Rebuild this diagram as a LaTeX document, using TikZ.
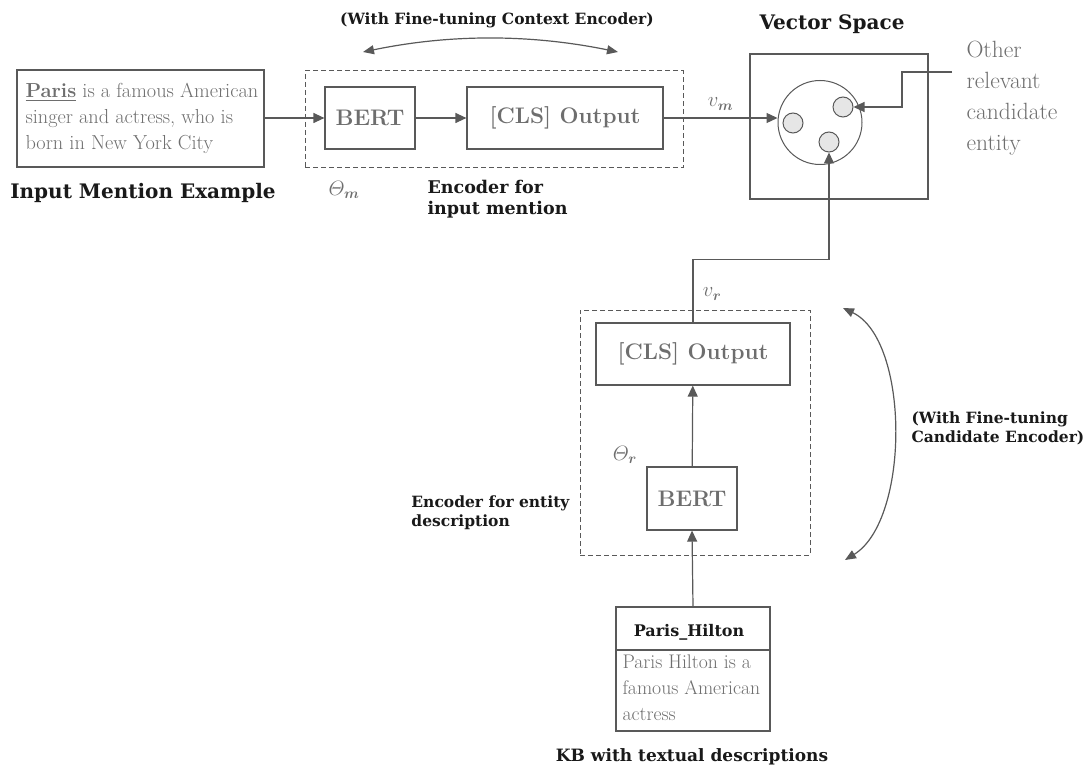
\documentclass[tikz,border=0pt]{standalone}
\usepackage{amsmath}
\usepackage{amssymb}
\usepackage{fontspec}
\newfontfamily\labelfont{DejaVu Serif}
\usetikzlibrary{arrows.meta}

\definecolor{linegray}{HTML}{595959}
\definecolor{textgray}{HTML}{6E6E6E}
\definecolor{dotgray}{HTML}{E6E6E6}

\tikzset{
  box/.style={draw=linegray, line width=1.2pt, inner sep=0pt},
  modelbox/.style={box, font=\fontsize{22.5}{24}\selectfont\bfseries, text=textgray},
  encbox/.style={draw=linegray, line width=1pt, dash pattern=on 5pt off 3pt},
  conn/.style={draw=linegray, line width=1.2pt, -{Triangle[length=11pt,width=10pt]}},
  swing/.style={draw=linegray, line width=1.2pt, {Triangle[length=11pt,width=9pt]}-{Triangle[length=11pt,width=9pt]}},
  caption/.style={font=\labelfont\bfseries\fontsize{20}{22}\selectfont, text=black!90},
  smallcap/.style={font=\labelfont\bfseries\fontsize{15.5}{19}\selectfont, text=black!90},
  plain/.style={font=\fontsize{20.3}{26}\selectfont, text=textgray, align=left},
  dot/.style={circle, draw=linegray, line width=1pt, fill=dotgray, minimum size=20pt, inner sep=0pt},
  sym/.style={text=textgray, font=\fontsize{22}{24}\selectfont}
}

\begin{document}
\begin{tikzpicture}[x=1pt, y=-1pt]
  \useasboundingbox (0,0) rectangle (1087,770);

  % Input mention
  \node[box, minimum width=247pt, minimum height=97pt] (inbox) at (140.5,118.5) {};
  \node[plain, anchor=west] (intext) at (22,118.5)
    {\underline{\textbf{Paris}} is a famous American\\singer and actress, who is\\born in New York City};
  \node[caption] (incap) at (143,193) {Input Mention Example};

  % Mention encoder
  \node[encbox, minimum width=378pt, minimum height=97pt] (encm) at (494,119.5) {};
  \node[modelbox, minimum width=90pt, minimum height=62pt] (bertm) at (370,118) {BERT};
  \node[modelbox, minimum width=196pt, minimum height=62pt] (clsm) at (565,118) {[CLS] Output};
  \node[smallcap] (ftm) at (497,20) {(With Fine-tuning Context Encoder)};
  \coordinate (ftmL) at (363,52);
  \coordinate (ftmR) at (618,52);
  \draw[swing] (ftmL) .. controls (450,34) and (530,34) .. (ftmR);
  \node[sym] (thm) at (344,190) {$\varTheta_{\boldsymbol{m}}$};
  \node[smallcap, font=\labelfont\bfseries\fontsize{17.5}{21}\selectfont, align=left, anchor=north west] (encmcap) at (424,177) {Encoder for\\input mention};

  \draw[conn] (inbox.east |- bertm.west) -- (bertm.west);
  \draw[conn] (bertm) -- (clsm);

  % Vector space
  \node[box, minimum width=178pt, minimum height=145pt] (vspace) at (839,126.5) {};
  \node[caption] (vscap) at (832,24) {Vector Space};
  \node[circle, draw=linegray, line width=1pt, minimum size=84pt, inner sep=0pt] (ball) at (820,122.5) {};
  \node[dot] (em) at (793,123) {};
  \node[dot] (eo) at (843,107) {};
  \node[dot] (er) at (829,142) {};
  \draw[conn] (clsm.east) -- node[sym, above=4pt] (vm) {$v_{\boldsymbol{m}}$} (ball.west |- clsm.east);
  \node[plain, anchor=north west, font=\fontsize{23.5}{31}\selectfont] (other) at (963,38)
    {Other\\relevant\\candidate\\entity};
  \coordinate (otherin) at (952,72);
  \draw[conn] (otherin) -- (902,72) |- (eo.east);

  % Candidate encoder
  \node[encbox, minimum width=230pt, minimum height=245pt] (encr) at (695,432.5) {};
  \node[modelbox, minimum width=194pt, minimum height=62pt] (clsr) at (693,354) {[CLS] Output};
  \node[modelbox, minimum width=90pt, minimum height=63pt] (bertr) at (692,498.5) {BERT};
  \node[sym] (thr) at (625,455) {$\varTheta_{\boldsymbol{r}}$};
  \node[smallcap, align=left, anchor=north east] (encrcap) at (573,492) {Encoder for entity\\description};
  \draw[conn] (bertr) -- (clsr);
  \draw[conn] (clsr.north) -- ++(0,-63) node[sym, pos=0.45, right=6pt] (vr) {$v_{\boldsymbol{r}}$} -| (er.south);
  \coordinate (ftrT) at (843,308);
  \coordinate (ftrB) at (845,560);
  \draw[swing] (ftrT) .. controls (910,340) and (910,520) .. (ftrB);
  \node[smallcap, align=left, anchor=west] (ftr) at (908,428) {(With Fine-tuning\\Candidate Encoder)};

  % Knowledge base entry
  \node[box, minimum width=154pt, minimum height=124pt] (kb) at (693,669) {};
  \draw[linegray, line width=1.2pt] (kb.west |- 0,650) -- (kb.east |- 0,650);
  \node[smallcap, font=\labelfont\bfseries\fontsize{16}{19}\selectfont] (kbhead) at (689,632) {Paris\_Hilton};
  \node[plain, anchor=north west, font=\fontsize{19.7}{26}\selectfont] (kbtext) at (619,651)
    {Paris Hilton is a\\famous American\\actress};
  \node[smallcap, font=\labelfont\bfseries\fontsize{17}{20}\selectfont] (kbcap) at (692,757) {KB with textual descriptions};
  \draw[conn] (kb.north) -- (bertr.south);
\end{tikzpicture}
\end{document}
